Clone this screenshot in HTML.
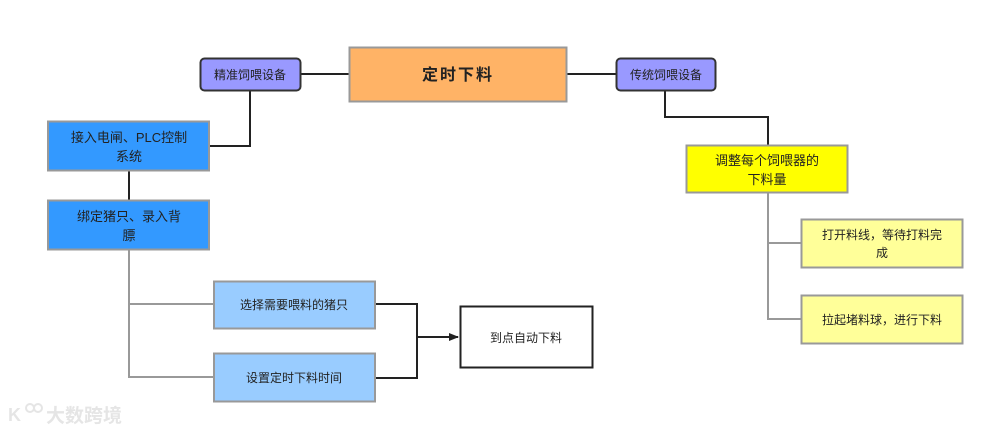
<!DOCTYPE html>
<html><head><meta charset="utf-8"><style>
html,body{margin:0;padding:0;background:#fff;}
svg{display:block;}
text{font-family:"Liberation Sans","Noto Sans CJK SC",sans-serif;fill:#222;}
</style></head><body>
<svg width="995" height="434" viewBox="0 0 995 434" xmlns="http://www.w3.org/2000/svg">
<defs><marker id="ar" markerWidth="10" markerHeight="8" refX="9" refY="4" orient="auto" markerUnits="userSpaceOnUse"><path d="M0,0 L10,4 L0,8 Z" fill="#222"/></marker></defs>
<g fill="none" stroke="#222" stroke-width="2">
<path d="M300,74 H349"/>
<path d="M566,74 H616"/>
<path d="M250,90 V146 H209"/>
<path d="M129,170 V200"/>
<path d="M665,90 V117 H768 V145"/>
<path d="M375,304 H417 V378 H375"/>
<path d="M417,337 H458" marker-end="url(#ar)"/>
</g>
<g fill="none" stroke="#999" stroke-width="2">
<path d="M129,249 V377 H214 M129,304 H214"/>
<path d="M768,193 V319 H801 M768,243 H801"/>
</g>
<rect x="349.5" y="47.5" width="217" height="54" fill="#FFB366" stroke="#999" stroke-width="2"/>
<text x="458" y="80" font-size="16" font-weight="bold" text-anchor="middle" letter-spacing="2">定时下料</text>
<rect x="200.5" y="58.5" width="100" height="32" rx="4" fill="#9999FF" stroke="#333" stroke-width="2"/>
<text x="250" y="79" font-size="12" text-anchor="middle">精准饲喂设备</text>
<rect x="616.5" y="58.5" width="99" height="32" rx="4" fill="#9999FF" stroke="#333" stroke-width="2"/>
<text x="666" y="79" font-size="12" text-anchor="middle">传统饲喂设备</text>
<rect x="48" y="121.5" width="161" height="49" fill="#3399FF" stroke="#999" stroke-width="2"/>
<text x="129" y="142" font-size="13" text-anchor="middle">接入电闸、PLC控制</text>
<text x="129" y="161" font-size="13" text-anchor="middle">系统</text>
<rect x="48" y="200.5" width="161" height="49" fill="#3399FF" stroke="#999" stroke-width="2"/>
<text x="129" y="221" font-size="13" text-anchor="middle">绑定猪只、录入背</text>
<text x="129" y="240" font-size="13" text-anchor="middle">膘</text>
<rect x="214" y="281.5" width="161" height="47" fill="#99CCFF" stroke="#999" stroke-width="2"/>
<text x="294" y="309" font-size="12" text-anchor="middle">选择需要喂料的猪只</text>
<rect x="214" y="353.5" width="161" height="48" fill="#99CCFF" stroke="#999" stroke-width="2"/>
<text x="294" y="382" font-size="12" text-anchor="middle">设置定时下料时间</text>
<rect x="460.5" y="306.5" width="132" height="61" fill="#fff" stroke="#222" stroke-width="2"/>
<text x="526" y="342" font-size="12" text-anchor="middle">到点自动下料</text>
<rect x="686.5" y="145.5" width="161" height="47" fill="#FFFF00" stroke="#999" stroke-width="2"/>
<text x="767" y="165" font-size="13" text-anchor="middle">调整每个饲喂器的</text>
<text x="767" y="184" font-size="13" text-anchor="middle">下料量</text>
<rect x="801.5" y="219.5" width="161" height="48" fill="#FFFF99" stroke="#999" stroke-width="2"/>
<text x="882" y="239" font-size="12" text-anchor="middle">打开料线，等待打料完</text>
<text x="882" y="257" font-size="12" text-anchor="middle">成</text>
<rect x="801.5" y="295.5" width="161" height="48" fill="#FFFF99" stroke="#999" stroke-width="2"/>
<text x="882" y="324" font-size="12" text-anchor="middle">拉起堵料球，进行下料</text>
<g opacity="0.5">
<text x="8" y="421" font-size="18" font-weight="bold" style="fill:#ccc">K</text>
<circle cx="30" cy="408" r="4" fill="none" stroke="#ccc" stroke-width="2"/>
<circle cx="38" cy="408" r="4" fill="none" stroke="#ccc" stroke-width="2"/>
<text x="46" y="422" font-size="19" font-weight="bold" style="fill:#ccc">大数跨境</text>
</g>
</svg>
</body></html>
